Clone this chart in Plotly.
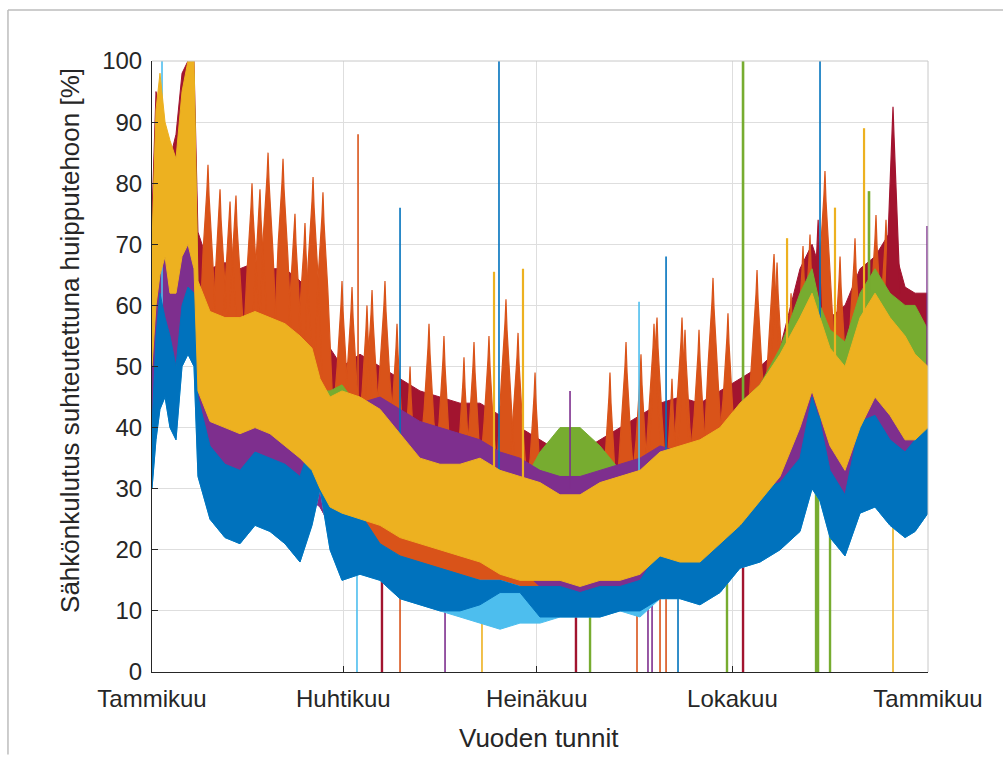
import plotly.graph_objects as go

# ---------------- data ----------------
# hour-of-year nodes at which the envelope of each series was read
hours = [0, 45, 90, 147, 203, 271, 339, 406, 474, 519, 655, 824, 993, 1163, 1332,
         1501, 1671, 1806, 1897, 2010, 2145, 2348, 2574, 2800, 3025, 3251, 3477,
         3703, 3929, 4154, 4380, 4606, 4832, 5057, 5283, 5509, 5735, 5960, 6186,
         6412, 6638, 6864, 7090, 7315, 7451, 7541, 7654, 7823, 7993, 8162, 8331,
         8501, 8614, 8760]

yellow_lo = [50, 60, 65, 68, 62, 62, 68, 70, 66, 46, 41, 40, 39, 40, 39, 37, 35, 33, 30, 27,
             26, 25, 24, 22, 21, 20, 19, 18, 16, 15, 15, 15, 14, 15, 15, 16, 19, 18, 18, 21,
             24, 28, 32, 40, 46, 42, 37, 33, 40, 45, 42, 38, 38, 40]
yellow_hi = [70, 92, 98, 90, 87, 84, 95, 100, 100, 64, 59, 58, 58, 59, 58, 57, 55, 53, 48, 45,
             46, 45, 43, 39, 35, 34, 34, 35, 33, 32, 31, 29, 29, 31, 32, 33, 36, 37, 38, 40,
             44, 47, 52, 58, 62, 58, 53, 50, 58, 62, 58, 55, 52, 50]

blue_lo = [30, 38, 43, 45, 40, 38, 50, 52, 50, 32, 25, 22, 21, 24, 23, 21, 18, 24, 30, 20,
           15, 16, 15, 12, 11, 10, 10, 11, 13, 13, 9, 9, 9, 9, 10, 10, 12, 12, 11, 13,
           17, 18, 20, 23, 30, 28, 22, 19, 26, 27, 24, 22, 23, 26]
blue_hi = [40, 55, 62, 58, 55, 50, 60, 63, 62, 45, 37, 34, 33, 36, 35, 34, 32, 38, 40, 30,
           27, 26, 21, 19, 18, 17, 16, 15, 15, 14, 14, 14, 13, 14, 14, 15, 20, 20, 19, 21,
           27, 30, 31, 35, 45, 41, 33, 29, 41, 42, 38, 36, 38, 41]

lightblue_lo = [30, 38, 43, 45, 40, 38, 50, 52, 50, 32, 25, 22, 21, 24, 23, 21, 18, 24, 30, 20,
                15, 16, 15, 12, 11, 10, 9, 8, 7, 8, 8, 9, 9, 9, 10, 9, 12, 12, 11, 13,
                17, 18, 20, 23, 30, 28, 22, 19, 26, 27, 24, 22, 23, 26]
lightblue_hi = [37, 52, 59, 55, 52, 47, 57, 60, 59, 42, 34, 31, 30, 33, 32, 31, 29, 35, 37, 27,
                24, 23, 19, 17, 16, 15, 15, 15, 15, 14, 13, 13, 12, 13, 13, 14, 18, 18, 17, 19,
                25, 28, 29, 33, 43, 39, 31, 27, 39, 40, 36, 34, 36, 39]

purple_lo = [40, 48, 55, 55, 52, 50, 58, 60, 58, 40, 30, 29, 29, 30, 30, 29, 27, 28, 27, 24,
             22, 27, 26, 24, 23, 22, 21, 20, 18, 17, 14, 13, 13, 13, 14, 15, 16, 16, 16, 18,
             22, 24, 26, 30, 35, 32, 27, 25, 30, 32, 28, 28, 29, 30]
purple_hi = [50, 72, 80, 70, 65, 62, 75, 80, 78, 55, 45, 44, 44, 46, 45, 44, 43, 43, 40, 38,
             40, 44, 45, 43, 41, 40, 39, 38, 36, 35, 33, 32, 32, 33, 34, 35, 37, 36, 36, 37,
             38, 40, 44, 50, 55, 50, 44, 42, 48, 50, 46, 44, 45, 45]

red_lo = [50, 60, 65, 70, 68, 70, 75, 78, 72, 55, 50, 48, 48, 50, 48, 47, 45, 43, 40, 38,
          36, 35, 33, 31, 29, 28, 27, 27, 26, 25, 24, 23, 24, 24, 26, 27, 29, 30, 30, 32,
          34, 36, 40, 48, 52, 48, 42, 42, 45, 48, 48, 45, 44, 45]
red_hi = [75, 95, 92, 88, 84, 88, 98, 100, 100, 72, 66, 67, 66, 67, 66, 66, 64, 62, 56, 53,
          50, 52, 50, 48, 46, 45, 44, 44, 42, 40, 38, 36, 36, 38, 40, 42, 44, 45, 44, 46,
          48, 50, 53, 66, 70, 66, 58, 60, 66, 68, 72, 63, 62, 62]

orange_lo = [48, 58, 62, 65, 60, 60, 66, 68, 64, 44, 38, 37, 36, 37, 36, 34, 32, 30, 27, 24,
             23, 22, 21, 19, 17, 16, 16, 15, 13, 13, 13, 13, 12, 13, 13, 14, 16, 15, 15, 18,
             21, 25, 29, 37, 43, 39, 34, 30, 37, 42, 39, 35, 35, 37]
orange_hi = [70, 90, 88, 84, 80, 84, 94, 96, 96, 68, 62, 63, 62, 63, 62, 62, 60, 58, 52, 49,
             46, 48, 46, 44, 42, 41, 40, 40, 38, 36, 34, 32, 32, 34, 36, 38, 40, 41, 40, 42,
             44, 46, 49, 62, 66, 62, 54, 56, 62, 64, 68, 59, 58, 58]

green_lo = [52, 62, 67, 70, 64, 64, 70, 72, 68, 48, 43, 42, 41, 42, 41, 39, 37, 35, 32, 29,
            28, 27, 26, 24, 23, 22, 21, 20, 18, 18, 24, 29, 28, 26, 20, 18, 21, 20, 20, 23,
            26, 30, 34, 42, 48, 44, 40, 36, 42, 47, 44, 40, 40, 42]
green_hi = [68, 90, 96, 88, 85, 82, 93, 98, 98, 62, 57, 56, 56, 57, 56, 55, 53, 51, 46, 46,
            47, 43, 41, 37, 33, 32, 32, 33, 31, 30, 36, 40, 40, 37, 33, 31, 34, 35, 36, 38,
            44, 47, 53, 62, 66, 60, 56, 54, 62, 66, 62, 60, 60, 56]

# weekly peak lobes (hour, peak value, value where the lobe leaves the band)
lobe_hours = [632, 768, 881, 948, 1129, 1219, 1310, 1479, 1614, 1727, 1818, 1930, 2145, 2258,
              2427, 2484, 2630, 2766, 2913, 3127, 3296, 3522, 3635, 3804, 3996, 4132, 4324,
              5170, 5351, 5520, 5667, 5701, 5870, 5983, 6017, 6175, 6333, 6502, 6830, 7022,
              7056, 7214, 7349, 7428, 7597, 7767, 7936, 8173, 8286, 7520, 8365]
lobe_peaks = [83, 79, 77, 78, 80, 79, 85, 84, 75, 73.5, 81, 78.5, 64, 63,
              60, 62.5, 64, 57, 50, 57, 55, 51.5, 54, 55, 61, 55.5, 49,
              49, 54, 52, 57, 58, 48, 58, 56, 56, 64.5, 58.7, 65.8, 68.4,
              67, 62, 69.7, 71.6, 82, 68, 71, 74.8, 74, 74, 92.5]
lobe_bases = [50, 50, 50, 50, 50, 50, 50, 50, 48, 48, 46, 44, 40, 40,
              38, 38, 38, 36, 34, 34, 33, 32, 32, 31, 31, 30, 28,
              28, 28, 30, 31, 31, 31, 32, 32, 33, 34, 36, 40, 42,
              42, 44, 48, 50, 52, 48, 50, 52, 52, 55, 62]
lobe_series = ["orange"] * 49 + ["red", "red"]

# single-hour spikes upward (hour, top value, series)
spike_hours = [113, 2326, 2800, 3861, 3917, 4188, 4719, 5498, 5803, 6672, 7169, 7541, 7710,
               8038, 8094, 8750]
spike_tops = [100, 88, 76, 65.5, 100, 66, 46, 60.6, 68, 100, 71, 100, 76, 89, 78.7, 73]
spike_bases = [60, 45, 30, 30, 20, 30, 30, 20, 15, 30, 40, 40, 45, 50, 50, 45]
spike_series = ["lightblue", "orange", "blue", "yellow", "blue", "yellow", "purple",
                "lightblue", "blue", "green", "yellow", "blue", "yellow", "yellow", "green",
                "purple"]

# single-hour dropouts to zero (hour, series)
drop_hours = [2314, 2596, 2800, 3308, 3725, 4786, 4945, 5475, 5599, 5645, 5735, 5803, 5938,
              6491, 6672, 7496, 7519, 7654, 8365]
drop_series = ["lightblue", "red", "orange", "purple", "yellow", "red", "green", "orange",
               "purple", "purple", "orange", "orange", "blue", "green", "red", "green",
               "green", "green", "yellow"]

month_ticks = [0, 2160, 4344, 6552, 8760]
month_labels = ["Tammikuu", "Huhtikuu", "Heinäkuu", "Lokakuu", "Tammikuu"]

# ---------------- styling ----------------
colors = {
    "blue": "#0072BD", "orange": "#D95319", "yellow": "#EDB120", "purple": "#7E2F8E",
    "green": "#77AC30", "lightblue": "#4DBEEE", "red": "#A2142F",
}
spike_widths = {"blue": 1.6, "lightblue": 1.6, "yellow": 2.2, "green": 2.6,
                "purple": 1.6, "orange": 1.6, "red": 2.0}
drop_widths = {"blue": 1.6, "lightblue": 1.6, "yellow": 1.6, "green": 2.4,
               "purple": 1.6, "orange": 1.6, "red": 2.4}

fig = go.Figure()


def add_band(lo, hi, key):
    fig.add_trace(go.Scatter(
        x=hours + hours[::-1], y=hi + lo[::-1], mode="lines", fill="toself",
        fillcolor=colors[key], line=dict(color=colors[key], width=1),
        hoverinfo="skip", showlegend=False))


def add_lines(hs, tops, bases, keys, widths):
    for key in colors:
        xs, ys = [], []
        for h, t, b, k in zip(hs, tops, bases, keys):
            if k == key:
                xs += [h, h, None]
                ys += [b, t, None]
        if xs:
            fig.add_trace(go.Scatter(
                x=xs, y=ys, mode="lines", line=dict(color=colors[key], width=widths[key]),
                hoverinfo="skip", showlegend=False))


def add_lobes():
    for key in colors:
        xs, ys = [], []
        for h, p, b, k in zip(lobe_hours, lobe_peaks, lobe_bases, lobe_series):
            if k == key:
                w = 110 if key == "orange" else 80
                xs += [h - w, h - 0.5 * w, h - 12, h, h + 12, h + 0.5 * w, h + w, None]
                ys += [b, p - 14, p - 4, p, p - 5, p - 16, b, None]
        if xs:
            fig.add_trace(go.Scatter(
                x=xs, y=ys, mode="lines", fill="toself", fillcolor=colors[key],
                line=dict(color=colors[key], width=1.2),
                hoverinfo="skip", showlegend=False))


# dropouts (under everything)
add_lines(drop_hours, [30] * len(drop_hours), [0] * len(drop_hours), drop_series, drop_widths)
add_band(orange_lo, orange_hi, "orange")
add_band(red_lo, red_hi, "red")
add_lobes()
add_band(green_lo, green_hi, "green")
add_band(purple_lo, purple_hi, "purple")
add_lines(spike_hours, spike_tops, spike_bases, spike_series, spike_widths)
add_band(lightblue_lo, lightblue_hi, "lightblue")
add_band(blue_lo, blue_hi, "blue")
add_band(yellow_lo, yellow_hi, "yellow")

font_family = "Liberation Sans, Arial, Helvetica, sans-serif"
axis_color = "#262626"
grid_color = "#dedede"

fig.update_layout(
    width=1003, height=759,
    margin=dict(l=152, r=75, t=61, b=87),
    paper_bgcolor="white", plot_bgcolor="white",
    font=dict(family=font_family, size=24, color=axis_color),
    showlegend=False, hovermode=False,
    xaxis=dict(
        range=[0, 8760], tickmode="array", tickvals=month_ticks, ticktext=month_labels,
        ticks="inside", ticklen=6, tickcolor=axis_color, showline=True, linecolor=axis_color,
        linewidth=1, showgrid=True, gridcolor=grid_color, gridwidth=1, zeroline=False,
        tickfont=dict(size=24), ticklabelstandoff=5,
    ),
    yaxis=dict(
        range=[0, 100], tickmode="linear", tick0=0, dtick=10,
        ticks="inside", ticklen=6, tickcolor=axis_color, showline=True, linecolor=axis_color,
        linewidth=1, showgrid=True, gridcolor=grid_color, gridwidth=1, zeroline=False,
        tickfont=dict(size=24), ticklabelstandoff=4,
    ),
    annotations=[
        dict(text="Vuoden tunnit", xref="paper", yref="paper", x=0.4987, y=-0.108,
             xanchor="center", yanchor="middle", showarrow=False,
             font=dict(size=26, color=axis_color)),
        dict(text="Sähkönkulutus suhteutettuna huipputehoon [%]", xref="paper", yref="paper",
             x=-0.1057, y=0.5434, xanchor="center", yanchor="middle", textangle=-90,
             showarrow=False, font=dict(size=26, color=axis_color)),
    ],
    shapes=[
        # light box on top / right of the axes
        dict(type="line", xref="paper", yref="paper", x0=0, x1=1, y0=1, y1=1,
             line=dict(color="#c8c8c8", width=1), layer="above"),
        dict(type="line", xref="paper", yref="paper", x0=1, x1=1, y0=0, y1=1,
             line=dict(color="#c8c8c8", width=1), layer="above"),
        # outer frame of the picture
        dict(type="line", xref="paper", yref="paper", x0=-0.1856, x1=1.10, y0=1.0835, y1=1.0835,
             line=dict(color="#bdbdbd", width=1.5)),
        dict(type="line", xref="paper", yref="paper", x0=-0.1856, x1=-0.1856, y0=-0.135, y1=1.0835,
             line=dict(color="#bdbdbd", width=1.5)),
    ],
)

fig.write_html("out.html")
